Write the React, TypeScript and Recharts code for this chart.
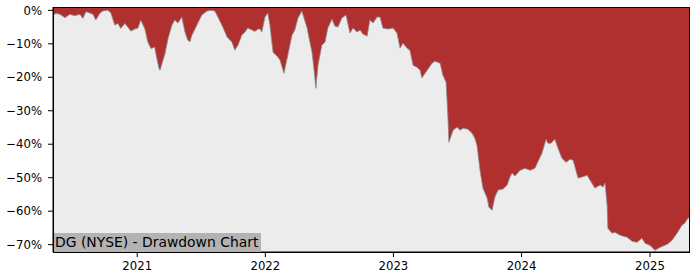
import { AreaChart, Area, XAxis, YAxis, CartesianGrid } from 'recharts'

// drawdown of DG (NYSE)
const dates = [
  '2020-05-06', '2020-05-15', '2020-05-26', '2020-06-09', '2020-06-23', '2020-07-07',
  '2020-07-22', '2020-07-30', '2020-08-08', '2020-08-19', '2020-08-28', '2020-09-05',
  '2020-09-17', '2020-09-25', '2020-10-09', '2020-10-18', '2020-10-29', '2020-11-07',
  '2020-11-15', '2020-11-27', '2020-12-05', '2020-12-14', '2020-12-25', '2021-01-03',
  '2021-01-11', '2021-01-23', '2021-01-31', '2021-02-09', '2021-02-20', '2021-02-23',
  '2021-03-04', '2021-03-07', '2021-03-15', '2021-03-21', '2021-03-30', '2021-04-10',
  '2021-04-18', '2021-04-27', '2021-05-08', '2021-05-17', '2021-05-25', '2021-05-31',
  '2021-06-06', '2021-06-20', '2021-07-04', '2021-07-19', '2021-07-30', '2021-08-10',
  '2021-08-19', '2021-09-02', '2021-09-14', '2021-09-28', '2021-10-06', '2021-10-15',
  '2021-10-26', '2021-11-04', '2021-11-12', '2021-11-24', '2021-12-02', '2021-12-11',
  '2021-12-17', '2021-12-22', '2021-12-31', '2022-01-08', '2022-01-14', '2022-01-23',
  '2022-02-06', '2022-02-12', '2022-02-23', '2022-03-06', '2022-03-18', '2022-03-26',
  '2022-04-04', '2022-04-15', '2022-04-30', '2022-05-08', '2022-05-14', '2022-05-19',
  '2022-05-25', '2022-05-31', '2022-06-11', '2022-06-20', '2022-06-28', '2022-07-10',
  '2022-07-18', '2022-07-27', '2022-08-07', '2022-08-19', '2022-08-30', '2022-09-08',
  '2022-09-19', '2022-09-28', '2022-10-06', '2022-10-18', '2022-10-26', '2022-11-04',
  '2022-11-15', '2022-11-24', '2022-12-02', '2022-12-16', '2022-12-31', '2023-01-11',
  '2023-01-20', '2023-01-28', '2023-02-09', '2023-02-17', '2023-02-26', '2023-03-09',
  '2023-03-18', '2023-03-23', '2023-04-07', '2023-04-21', '2023-04-29', '2023-05-14',
  '2023-05-22', '2023-05-31', '2023-06-05', '2023-06-08', '2023-06-20', '2023-07-01',
  '2023-07-10', '2023-07-18', '2023-08-01', '2023-08-13', '2023-08-21', '2023-08-27',
  '2023-09-05', '2023-09-13', '2023-09-25', '2023-09-30', '2023-10-09', '2023-10-17',
  '2023-10-26', '2023-11-09', '2023-11-21', '2023-11-29', '2023-12-05', '2023-12-13',
  '2023-12-28', '2024-01-11', '2024-01-25', '2024-02-08', '2024-02-16', '2024-02-28',
  '2024-03-11', '2024-03-16', '2024-03-25', '2024-04-05', '2024-04-14', '2024-04-25',
  '2024-05-07', '2024-05-18', '2024-05-27', '2024-06-10', '2024-06-21', '2024-07-06',
  '2024-07-14', '2024-07-28', '2024-08-12', '2024-08-20', '2024-08-26', '2024-09-01',
  '2024-09-03', '2024-09-15', '2024-09-23', '2024-10-08', '2024-10-28', '2024-11-11',
  '2024-11-25', '2024-12-09', '2024-12-18', '2025-01-01', '2025-01-15', '2025-01-30',
  '2025-02-19', '2025-03-05', '2025-03-19', '2025-04-02', '2025-04-10', '2025-04-19',
  '2025-04-25',
]

const drawdown = [
  -1.4, -0.9, -1.2, -2.2, -1.2, -1.6,
  -1.2, -2.4, -0.4, -0.8, -1.2, -2.9,
  -0.8, -0.2, 0, -0.8, -4.4, -3.9,
  -5.4, -3.9, -5.0, -6.2, -5.6, -5.3,
  -2.9, -5.6, -9.4, -11.4, -11.0, -12.9,
  -17.3, -17.9, -15.0, -13.0, -8.3, -4.4,
  -2.9, -3.8, -2.0, -6.5, -8.9, -9.4,
  -7.4, -4.4, -1.4, -0.2, 0, -0.2,
  -2.0, -5.0, -8.0, -9.5, -11.9, -10.4,
  -7.4, -6.5, -5.3, -5.9, -6.3, -5.6,
  -5.6, -6.5, -2.0, -0.8, -4.4, -12.5,
  -14.0, -14.9, -18.8, -13.4, -7.4, -5.9,
  -2.3, -0.2, -5.3, -9.5, -12.5, -17.0,
  -23.3, -16.4, -10.4, -9.5, -5.3, -2.6,
  -4.7, -5.0, -2.3, -1.4, -6.8, -5.3,
  -6.5, -5.9, -7.1, -7.7, -2.9, -3.8,
  -2.0, -2.0, -5.3, -5.6, -5.3, -6.8,
  -11.3, -9.8, -11.3, -11.9, -16.4, -17.0,
  -17.9, -20.2, -17.9, -15.8, -15.2, -15.8,
  -19.4, -21.5, -31.3, -39.4, -35.8, -34.9,
  -35.8, -35.2, -35.5, -36.7, -38.2, -40.3,
  -48.0, -53.1, -56.1, -58.8, -59.7, -55.8,
  -53.7, -53.4, -52.2, -49.8, -48.6, -49.5,
  -47.8, -47.2, -47.8, -47.2, -45.4, -42.7,
  -38.5, -39.7, -39.7, -38.5, -41.2, -44.2,
  -45.4, -44.5, -44.8, -50.1, -49.8, -49.3,
  -50.7, -53.1, -52.2, -52.8, -51.6, -58.5,
  -65.1, -66.6, -66.3, -67.2, -67.8, -69.0,
  -69.3, -68.1, -69.6, -70.2, -71.7, -70.8,
  -69.9, -68.7, -66.6, -64.2, -63.6, -62.1,
  -61.8,
]

const yearTicks = ['2021-01-01', '2022-01-01', '2023-01-01', '2024-01-01', '2025-01-01']
const pctTicks = [0, -10, -20, -30, -40, -50, -60, -70]
const xStart = '2020-05-06'
const xEnd = '2025-04-25'
const yTop = 1.0
const yBottom = -72.2

const title = 'DG (NYSE) - Drawdown Chart'

const data = dates.map((d, i) => ({ t: Date.parse(d), dd: drawdown[i] }))

const font = '"DejaVu Sans", sans-serif'
const tickStyle = { fontSize: 11.7, fill: '#000', fontFamily: font }

function fmtPct(v: number) {
  return v === 0 ? '0%' : `\u2212${Math.abs(v)}%`
}

export default function App() {
  return (
    <div style={{ position: 'absolute', left: 0, top: 0, width: 700, height: 280 }}>
      <AreaChart
        width={700}
        height={280}
        data={data}
        margin={{ top: 7, right: 10, bottom: 0, left: 0 }}
      >
        <CartesianGrid fill="#ececec" stroke="none" horizontal={false} vertical={false} />
        <XAxis
          dataKey="t"
          type="number"
          domain={[Date.parse(xStart), Date.parse(xEnd)]}
          ticks={yearTicks.map((d) => Date.parse(d))}
          tickFormatter={(v: number) => String(new Date(v).getUTCFullYear())}
          allowDataOverflow
          height={28}
          tick={tickStyle}
          tickSize={5}
          tickMargin={5}
          stroke="#000"
        />
        <YAxis
          type="number"
          domain={[yBottom, yTop]}
          ticks={pctTicks}
          tickFormatter={fmtPct}
          allowDataOverflow
          width={53}
          tick={tickStyle}
          tickSize={5}
          tickMargin={6}
          stroke="#000"
        />
        <Area
          type="linear"
          dataKey="dd"
          baseValue={yTop}
          fill="#b03030"
          fillOpacity={1}
          stroke="#8a8a8a"
          strokeWidth={0.8}
          dot={false}
          activeDot={false}
          isAnimationActive={false}
        />
      </AreaChart>
      <div
        style={{
          position: 'absolute',
          left: 53,
          top: 233,
          height: 19,
          lineHeight: '19px',
          padding: '0 3px 0 2px',
          background: '#b3b3b3',
          color: '#000',
          fontFamily: font,
          fontSize: 13.9,
          whiteSpace: 'nowrap',
        }}
      >
        {title}
      </div>
      <div
        style={{
          position: 'absolute',
          left: 53,
          top: 7,
          width: 637,
          height: 246,
          boxSizing: 'border-box',
          border: '1px solid #000',
          pointerEvents: 'none',
        }}
      />
    </div>
  )
}
